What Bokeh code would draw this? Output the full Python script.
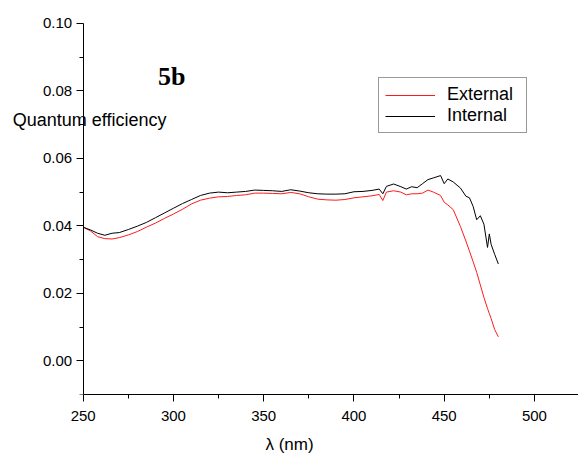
from bokeh.plotting import figure
from bokeh.models import Range1d, FixedTicker, Label, Legend, LegendItem, PrintfTickFormatter
from bokeh.embed import file_html
from bokeh.resources import INLINE

wavelength = [250, 254, 258, 262, 266, 270, 275, 280, 285, 290, 295, 300, 305, 310, 315,
              320, 325, 330, 335, 340, 345, 350, 355, 360, 365, 370, 375, 380, 385, 390,
              395, 400, 405, 410, 414, 416, 418, 422, 426, 429, 432, 435, 438, 441, 444,
              448, 450, 452, 455, 459, 462, 464, 466, 468, 470, 472, 474, 475, 476, 478, 480]

internal = [0.0396, 0.0388, 0.0378, 0.0372, 0.0378, 0.0380, 0.0389, 0.0399, 0.0410, 0.0424,
            0.0438, 0.0452, 0.0466, 0.0478, 0.0490, 0.0497, 0.0500, 0.0498, 0.0500, 0.0502,
            0.0506, 0.0505, 0.0504, 0.0502, 0.0507, 0.0503, 0.0498, 0.0495, 0.0494, 0.0494,
            0.0495, 0.0501, 0.0502, 0.0505, 0.0509, 0.0495, 0.0517, 0.0524, 0.0516, 0.0509,
            0.0516, 0.0513, 0.0525, 0.0537, 0.0542, 0.0549, 0.0525, 0.0539, 0.0530, 0.0512,
            0.0488, 0.0483, 0.0458, 0.0418, 0.0430, 0.0405, 0.0336, 0.0376, 0.0345, 0.0315, 0.0287]

external = [0.0396, 0.0385, 0.0368, 0.0362, 0.0361, 0.0365, 0.0373, 0.0383, 0.0396, 0.0408,
            0.0422, 0.0435, 0.0449, 0.0465, 0.0476, 0.0482, 0.0486, 0.0487, 0.0490, 0.0492,
            0.0497, 0.0497, 0.0496, 0.0495, 0.0499, 0.0495, 0.0486, 0.0479, 0.0477, 0.0476,
            0.0478, 0.0483, 0.0486, 0.0489, 0.0493, 0.0475, 0.0500, 0.0504, 0.0500, 0.0492,
            0.0495, 0.0495, 0.0497, 0.0506, 0.0500, 0.0490, 0.0470, 0.0462, 0.0448, 0.0398,
            0.0355, 0.0325, 0.0294, 0.0262, 0.0225, 0.0188, 0.0155, 0.0140, 0.0125, 0.0092, 0.0071]

x_ticks = [250, 300, 350, 400, 450, 500]
x_minor = [275, 325, 375, 425, 475, 525]
y_ticks = [0.00, 0.02, 0.04, 0.06, 0.08, 0.10]
y_minor = [-0.01, 0.01, 0.03, 0.05, 0.07, 0.09]

p = figure(width=578, height=457, output_backend="svg", toolbar_location=None,
           x_range=Range1d(204.2, 524.4), y_range=Range1d(-0.01, 0.1068),
           min_border_left=0, min_border_right=0, min_border_top=0, min_border_bottom=63)
p.outline_line_color = None
p.xgrid.grid_line_color = None
p.ygrid.grid_line_color = None
p.background_fill_color = "white"
p.border_fill_color = "white"

r_ext = p.line(wavelength, external, line_color="#ff1a1a", line_width=1)
r_int = p.line(wavelength, internal, line_color="black", line_width=1)

for ax in (p.xaxis[0], p.yaxis[0]):
    ax.axis_line_color = "black"
    ax.major_tick_line_color = "black"
    ax.minor_tick_line_color = "black"
    ax.major_tick_in = 0
    ax.major_tick_out = 7
    ax.minor_tick_in = 0
    ax.minor_tick_out = 4
    ax.major_label_text_font = "Liberation Sans"
    ax.major_label_text_font_size = "15px"
    ax.major_label_text_color = "black"

p.xaxis[0].ticker = FixedTicker(ticks=x_ticks, minor_ticks=x_minor)
p.xaxis[0].bounds = (250, 524.4)
p.yaxis[0].ticker = FixedTicker(ticks=y_ticks, minor_ticks=y_minor)
p.yaxis[0].formatter = PrintfTickFormatter(format="%.2f")
p.yaxis[0].fixed_location = 250
p.yaxis[0].bounds = (-0.01, 0.10)
p.xaxis[0].major_label_standoff = 9
p.yaxis[0].major_label_standoff = 4

p.xaxis[0].axis_label = "λ (nm)"
p.xaxis[0].axis_label_text_font = "Liberation Sans"
p.xaxis[0].axis_label_text_font_style = "normal"
p.xaxis[0].axis_label_text_font_size = "17px"
p.xaxis[0].axis_label_text_color = "black"
p.xaxis[0].axis_label_standoff = 11

p.add_layout(Label(x=211, y=0.0715, text="Quantum efficiency", text_baseline="middle",
                   text_font="Liberation Sans", text_font_size="18px", text_color="black"))
p.add_layout(Label(x=291.5, y=0.0844, text="5b", text_baseline="middle",
                   text_font="Liberation Serif", text_font_style="bold",
                   text_font_size="26px", text_color="black"))

legend = Legend(items=[LegendItem(label="External", renderers=[r_ext]),
                       LegendItem(label="Internal", renderers=[r_int])],
                location=(378, 261), orientation="vertical",
                padding=6, spacing=0, margin=0,
                glyph_width=50, glyph_height=18, label_height=18, label_width=73,
                label_standoff=12, label_text_font="Liberation Sans",
                label_text_font_size="18px", label_text_color="black",
                border_line_color="#333333", border_line_width=1,
                background_fill_color="white", background_fill_alpha=1.0)
p.add_layout(legend, "center")

open("out.html", "w").write(file_html(p, INLINE))
